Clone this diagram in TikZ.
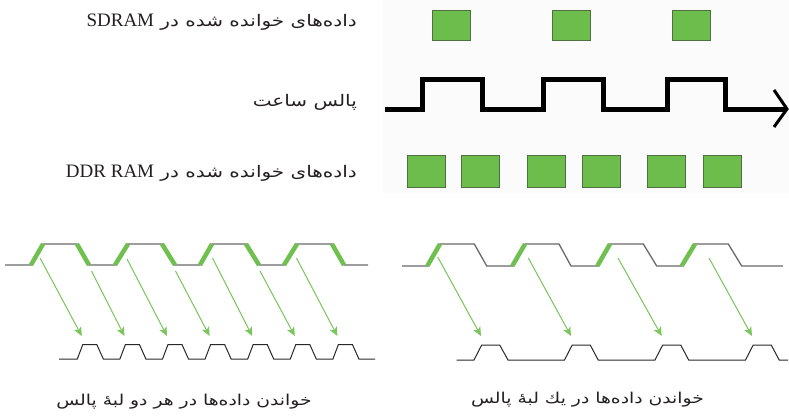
\documentclass[tikz,border=0pt]{standalone}
\usepackage{fontspec}
\setmainfont{Liberation Serif}
\newfontfamily\arabicfont[Script=Arabic,FakeStretch=1.25]{DejaVu Sans}
\TeXXeTstate=1
\usetikzlibrary{arrows.meta}
\definecolor{sqfill}{RGB}{108,189,75}
\definecolor{sqedge}{RGB}{78,112,66}
\definecolor{edgegreen}{RGB}{112,192,80}
\definecolor{arrowgreen}{RGB}{122,198,92}
\definecolor{wavegray}{RGB}{105,105,105}
\definecolor{wavedark}{RGB}{40,40,40}
\definecolor{txt}{RGB}{35,31,32}
\tikzset{
  sqbox/.style={draw=sqedge,fill=sqfill,line width=1.2pt,minimum width=38pt,inner sep=0pt,anchor=north west},
  clockline/.style={line width=5pt,line join=miter,black},
  topwave/.style={draw=wavegray,line width=1.3pt,line join=miter},
  greenedge/.style={draw=edgegreen,line width=4.5pt},
  lowwave/.style={draw=wavedark,line width=1pt,line join=miter},
  garrow/.style={draw=arrowgreen,line width=1pt,-{Stealth[length=9pt,width=8pt,inset=2.5pt]},fill=arrowgreen},
  lbl/.style={text=txt,inner sep=0pt},
}
\newcommand{\fa}{\arabicfont\fontsize{16}{19}\selectfont}
\newcommand{\fc}{\arabicfont\fontsize{15}{18}\selectfont}
\newcommand{\la}{\rmfamily\fontsize{19}{20}\selectfont}
\begin{document}
\begin{tikzpicture}[x=1pt,y=-1pt]
\useasboundingbox (0,0) rectangle (789,417);
\fill[black!1.5] (383,0) rectangle (789,193);
% labels
\node[lbl,anchor=east] (l1) at (357,22) {\fa\beginR داده‌های خوانده شده در \beginL{\la SDRAM}\endL\endR};
\node[lbl,anchor=east] (l2) at (357,102) {\fa\beginR پالس ساعت\endR};
\node[lbl,anchor=east] (l3) at (357,173) {\fa\beginR داده‌های خوانده شده در \beginL{\la DDR RAM}\endL\endR};
% SDRAM squares
\node[sqbox,minimum height=30pt] (s1) at (432,10) {};
\node[sqbox,minimum height=30pt] (s2) at (552,10) {};
\node[sqbox,minimum height=30pt] (s3) at (672,10) {};
% clock
\draw[clockline] (385,110) -- (422,110) -- (422,80) -- (482,80) -- (482,110) -- (543,110) -- (543,80) -- (603,80) -- (603,110) -- (667,110) -- (667,80) -- (725,80) -- (725,110) -- (786,110);
\draw[line width=3pt,line join=miter] (774,90) -- (787,109) -- (774,127);
% DDR squares
\node[sqbox,minimum height=32pt] (d1) at (407,155) {};
\node[sqbox,minimum height=32pt] (d2) at (461,155) {};
\node[sqbox,minimum height=32pt] (d3) at (527,155) {};
\node[sqbox,minimum height=32pt] (d4) at (582,155) {};
\node[sqbox,minimum height=32pt] (d5) at (647,155) {};
\node[sqbox,minimum height=32pt] (d6) at (703,155) {};
% ---- left panel: both edges
\draw[topwave] (5,265)--(31,265)--(43,244)--(77,244)--(89,265)--(115,265)--(128,244)--(162,244)--(175,265)--(200,265)--(212,244)--(246,244)--(259,265)--(284,265)--(297,244)--(332,244)--(344,265)--(368,265);
\foreach \a/\b/\c/\d in {31/265/43/244,77/244/89/265,115/265/128/244,162/244/175/265,200/265/212/244,246/244/259/265,284/265/297/244,332/244/344/265}
  \draw[greenedge] (\a,\b) -- (\c,\d);
\draw[lowwave] (59,359)--(77.3,359)--(82.8,344.5)--(96.8,344.5)--(103.3,359)
  --(119.9,359)--(125.4,344.5)--(139.4,344.5)--(145.9,359)
  --(162.5,359)--(168,344.5)--(182,344.5)--(188.5,359)
  --(205.1,359)--(210.6,344.5)--(224.6,344.5)--(231.1,359)
  --(247.7,359)--(253.2,344.5)--(267.2,344.5)--(273.7,359)
  --(290.3,359)--(295.8,344.5)--(309.8,344.5)--(316.3,359)
  --(332.9,359)--(338.4,344.5)--(352.4,344.5)--(358.9,359)--(375,359);
\foreach \i/\tx/\ty/\hx in {1/40/258/81.8,2/91.5/271/124.4,3/127/259/167,4/175.5/271/209.6,5/212.5/258/252.2,6/260/271/294.8,7/296.5/258/337.4}{
  \coordinate (lt\i) at (\tx,\ty);
  \coordinate (lh\i) at (\hx,336);
  \draw[garrow] (lt\i) -- (lh\i);
}
\node[lbl] (c1) at (184,402) {\fc\beginR خواندن داده‌ها در هر دو لبهٔ پالس\endR};
% ---- right panel: rising edge only
\draw[topwave] (402,266)--(427.3,266)--(440,244)--(474.3,244)--(486.7,266)--(512.3,266)--(525,244)--(559,244)--(571,266)--(597.3,266)--(610,244)--(643.3,244)--(656.7,266)--(681.7,266)--(695,244)--(728.3,244)--(741.7,266)--(783,266);
\foreach \a/\c in {427.3/440,512.3/525,597.3/610,681.7/695}
  \draw[greenedge] (\a,266) -- (\c,244);
\draw[lowwave] (456.7,360)--(474,360)--(481.7,345)--(499.7,345)--(508,360)--(564.5,360)--(572.2,345)--(590.2,345)--(598.2,360)--(655,360)--(662.7,345)--(680.7,345)--(688.7,360)--(745.5,360)--(753.2,345)--(771.2,345)--(779.2,360)--(788,360);
\foreach \i/\tx/\ty/\hx in {1/437.7/257/481,2/528.3/258/571,3/618/258/661.7,4/709/258/752}{
  \coordinate (rt\i) at (\tx,\ty);
  \coordinate (rh\i) at (\hx,336);
  \draw[garrow] (rt\i) -- (rh\i);
}
\node[lbl] (c2) at (587.5,400) {\fc\beginR خواندن داده‌ها در يك لبهٔ پالس\endR};
\end{tikzpicture}
\end{document}
